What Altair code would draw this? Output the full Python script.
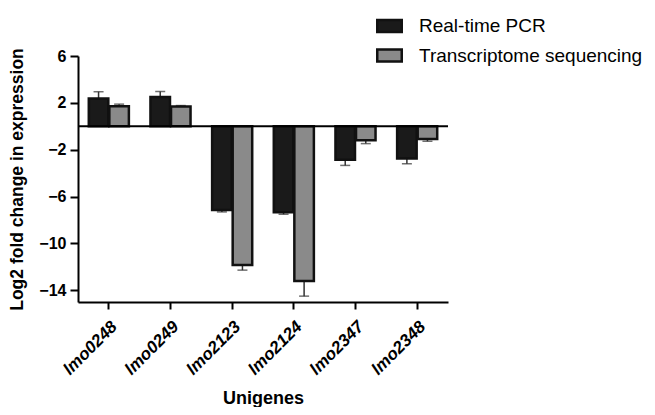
import altair as alt
import pandas as pd

genes = ["lmo0248", "lmo0249", "lmo2123", "lmo2124", "lmo2347", "lmo2348"]
series = ["Real-time PCR", "Transcriptome sequencing"]
pcr = [2.37, 2.49, -7.14, -7.34, -2.85, -2.74]
pcr_err = [0.58, 0.48, 0.17, 0.17, 0.49, 0.46]
seq = [1.71, 1.69, -11.85, -13.2, -1.2, -1.08]
seq_err = [0.18, 0.08, 0.43, 1.3, 0.28, 0.2]
y_ticks = [6, 2, -2, -6, -10, -14]

rows = []
for g, v, e in zip(genes, pcr, pcr_err):
    rows.append({"gene": g, "series": series[0], "value": v,
                 "err_end": v + e if v > 0 else v - e})
for g, v, e in zip(genes, seq, seq_err):
    rows.append({"gene": g, "series": series[1], "value": v,
                 "err_end": v + e if v > 0 else v - e})
df = pd.DataFrame(rows)

FONT = "Liberation Sans"

x = alt.X("gene:N", sort=genes, title="Unigenes",
          scale=alt.Scale(paddingInner=0.35, paddingOuter=0.175),
          axis=alt.Axis(labelAngle=-45, labelAlign="right", labelBaseline="top",
                        labelFont=FONT, labelFontSize=17, labelFontWeight="bold",
                        labelFontStyle="italic", labelColor="black",
                        titleFont=FONT, titleFontSize=18, titleFontWeight="bold",
                        titleColor="black", titlePadding=12,
                        domainColor="black", domainWidth=2, tickColor="black",
                        tickWidth=2, tickSize=7, labelPadding=9))
xo = alt.XOffset("series:N", sort=series,
                 scale=alt.Scale(paddingInner=0.05))
y_scale = alt.Scale(domain=[-15, 6], nice=False, zero=False)

bars = alt.Chart(df).mark_bar(stroke="#111111", strokeWidth=2.5).encode(
    x=x,
    xOffset=xo,
    y=alt.Y("value:Q", scale=y_scale, title="Log2 fold change in expression",
            axis=alt.Axis(values=y_ticks, grid=False, labelFont=FONT,
                          labelFontSize=16, labelFontWeight="bold", labelColor="black",
                          titleFont=FONT, titleFontSize=17.5, titleFontWeight="bold",
                          titleColor="black", titlePadding=12,
                          domainColor="black", domainWidth=2, tickColor="black",
                          tickWidth=2, tickSize=8, labelPadding=4)),
    y2=alt.datum(0),
    fill=alt.Fill("series:N", sort=series,
                  scale=alt.Scale(domain=series, range=["#1a1a1a", "#8a8a8a"]),
                  legend=alt.Legend(title=None, orient="none", legendX=298, legendY=-43.5,
                                    labelFont=FONT, labelFontSize=19, labelColor="black",
                                    symbolType="M-1,-0.5H1V0.5H-1Z", symbolSize=600,
                                    symbolStrokeColor="#111111", symbolStrokeWidth=2.5,
                                    labelOffset=16, rowPadding=4.5, labelLimit=400)),
)

err = alt.Chart(df).mark_rule(color="#333333", strokeWidth=1.5).encode(
    x=alt.X("gene:N", sort=genes),
    xOffset=xo,
    y=alt.Y("value:Q", scale=y_scale),
    y2="err_end:Q",
)

caps = alt.Chart(df).mark_tick(color="#333333", thickness=1.5, size=10).encode(
    x=alt.X("gene:N", sort=genes),
    xOffset=xo,
    y=alt.Y("err_end:Q", scale=y_scale),
)

zero = alt.Chart(pd.DataFrame({"z": [0]})).mark_rule(color="black", strokeWidth=2).encode(
    y=alt.Y("z:Q", scale=y_scale)
)

chart = alt.layer(err, caps, bars, zero).properties(
    width=370, height=246,
    autosize=alt.AutoSizeParams(type="none"),
    padding={"left": 70, "top": 48, "right": 199, "bottom": 105},
).configure_view(stroke=None)

chart.save("out.html", embed_options={"renderer": "svg", "actions": False})
